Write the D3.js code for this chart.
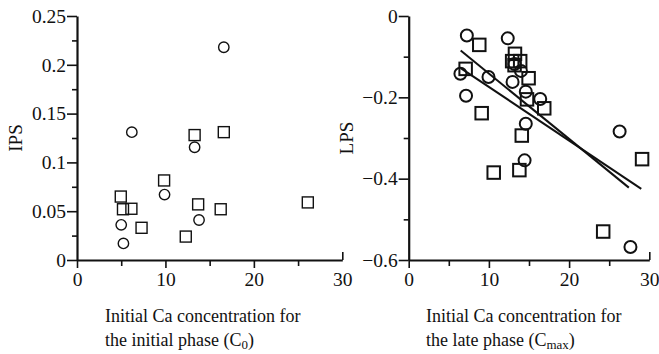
<!DOCTYPE html>
<html><head><meta charset="utf-8">
<script src="https://cdn.jsdelivr.net/npm/d3@7"></script>
<style>
html,body{margin:0;padding:0;background:#fff;}
svg{display:block;}
text{font-family:"Liberation Serif","Times New Roman",serif;fill:#111;}
</style></head>
<body>
<svg id="c" width="659" height="354"></svg>
<script>
// ---- Data ----
// Left panel: IPS vs C0
const ipsCircles = [
  [16.6, 0.218], [6.2, 0.131], [13.3, 0.1155], [9.9, 0.067],
  [5.0, 0.036], [5.25, 0.017], [13.8, 0.041]
];
const ipsSquares = [
  [13.3, 0.128], [16.6, 0.131], [9.85, 0.0815], [4.95, 0.065],
  [5.2, 0.052], [6.15, 0.0525], [7.3, 0.033], [12.3, 0.024],
  [13.7, 0.057], [16.25, 0.052], [26.1, 0.059]
];
// Right panel: LPS vs Cmax
const lpsCircles = [
  [7.25, -0.048], [12.35, -0.055], [6.45, -0.142], [9.95, -0.150],
  [7.15, -0.196], [12.95, -0.162], [13.2, -0.118], [14.0, -0.135],
  [14.6, -0.186], [16.4, -0.204], [14.6, -0.265], [14.45, -0.355],
  [26.3, -0.284], [27.65, -0.568]
];
const lpsSquares = [
  [8.8, -0.071], [7.1, -0.130], [13.25, -0.093], [12.9, -0.111],
  [13.9, -0.111], [13.2, -0.121], [14.95, -0.153], [14.75, -0.205],
  [16.9, -0.227], [9.1, -0.239], [14.1, -0.294], [10.6, -0.385],
  [13.8, -0.379], [29.1, -0.352], [24.25, -0.530]
];
// Regression lines [x1,y1,x2,y2]
const lpsLines = [
  [6.48, -0.085, 27.45, -0.422],
  [6.48, -0.128, 29.0, -0.425]
];
const xMajor = [0, 10, 20];
const xMinor = [5, 15, 25];
const xEnd = [30];
const ipsMajor = [0, 0.05, 0.1, 0.15, 0.2, 0.25];
const ipsMinor = [0.025, 0.075, 0.125, 0.175, 0.225];
const lpsMajor = [0, -0.2, -0.4, -0.6];
const lpsMinor = [-0.1, -0.3, -0.5];
const title1 = ["Initial Ca concentration for", "the initial phase (C", "0", ")"];
const title2 = ["Initial Ca concentration for", "the late phase (C", "max", ")"];

// ---- Drawing ----
const svg = d3.select("#c");
const FS = 18;
const TFS = 19.5;

function panel(opt) {
  const g = svg.append("g");
  const x = d3.scaleLinear().domain([0, 30]).range(opt.xr);
  const y = d3.scaleLinear().domain(opt.yd).range([260, 16]);
  const fmtY = opt.fmtY;

  // y axis
  const ya = g.append("g").attr("transform", `translate(${opt.xr[0]},0)`);
  ya.call(d3.axisLeft(y).tickValues(opt.yMajor).tickSize(10).tickSizeOuter(0).tickPadding(1).tickFormat(fmtY));
  ya.append("g").call(d3.axisLeft(y).tickValues(opt.yMinor).tickSize(5).tickSizeOuter(0).tickFormat(""))
    .select(".domain").remove();
  // x axis
  const xa = g.append("g").attr("transform", `translate(0,260)`);
  xa.call(d3.axisBottom(x).tickValues(xMajor).tickSize(8).tickSizeOuter(0).tickPadding(4).tickFormat(d3.format("d")));
  xa.append("g").call(d3.axisBottom(x).tickValues(xMinor).tickSize(6).tickSizeOuter(0).tickFormat(""))
    .select(".domain").remove();
  xa.append("g").call(d3.axisBottom(x).tickValues(xEnd).tickSize(-8).tickSizeOuter(0).tickPadding(12).tickFormat(d3.format("d")))
    .select(".domain").remove();

  g.selectAll(".domain").attr("stroke", "#111").attr("stroke-width", 2.2);
  g.selectAll(".tick line").attr("stroke", "#111").attr("stroke-width", 1.6);
  g.selectAll(".tick text").attr("font-family", "Liberation Serif").attr("font-size", TFS).attr("fill", "#111");

  // y label
  g.append("text").attr("transform", `translate(${opt.ylx},138) rotate(-90)`)
    .attr("text-anchor", "middle").attr("font-size", FS + 1).text(opt.ylabel);

  // x title
  const t = opt.title;
  g.append("text").attr("x", opt.tx).attr("y", 322).attr("font-size", FS).text(t[0]);
  const t2 = g.append("text").attr("x", opt.tx).attr("y", 346).attr("font-size", FS);
  t2.append("tspan").text(t[1]);
  t2.append("tspan").attr("font-size", FS * 0.72).attr("dy", 3).text(t[2]);
  t2.append("tspan").attr("dy", -3).text(t[3]);

  // lines
  if (opt.lines) {
    g.selectAll("line.reg").data(opt.lines).join("line").attr("class", "reg")
      .attr("x1", d => x(d[0])).attr("y1", d => y(d[1]))
      .attr("x2", d => x(d[2])).attr("y2", d => y(d[3]))
      .attr("stroke", "#111").attr("stroke-width", 2);
  }
  // markers
  const s = opt.sq;
  g.selectAll("rect.m").data(opt.squares).join("rect").attr("class", "m")
    .attr("x", d => x(d[0]) - s / 2).attr("y", d => y(d[1]) - s / 2)
    .attr("width", s).attr("height", s)
    .attr("fill", "none").attr("stroke", "#111").attr("stroke-width", opt.sw);
  g.selectAll("circle.m").data(opt.circles).join("circle").attr("class", "m")
    .attr("cx", d => x(d[0])).attr("cy", d => y(d[1])).attr("r", opt.r)
    .attr("fill", "none").attr("stroke", "#111").attr("stroke-width", opt.sw);
}

panel({
  xr: [77, 342.3], yd: [0, 0.25], yMajor: ipsMajor, yMinor: ipsMinor,
  fmtY: d => d === 0 ? "0" : String(+d.toFixed(3)),
  ylabel: "IPS", ylx: 22, title: title1, tx: 105,
  squares: ipsSquares, circles: ipsCircles, sq: 11, r: 5.2, sw: 1.4
});
panel({
  xr: [408.7, 649.3], yd: [-0.6, 0], yMajor: lpsMajor, yMinor: lpsMinor,
  fmtY: d => d === 0 ? "0" : "\u2212" + String(+Math.abs(d).toFixed(1)),
  ylabel: "LPS", ylx: 353, title: title2, tx: 426,
  squares: lpsSquares, circles: lpsCircles, sq: 12.5, r: 6, sw: 2, lines: lpsLines
});
</script>
</body></html>
